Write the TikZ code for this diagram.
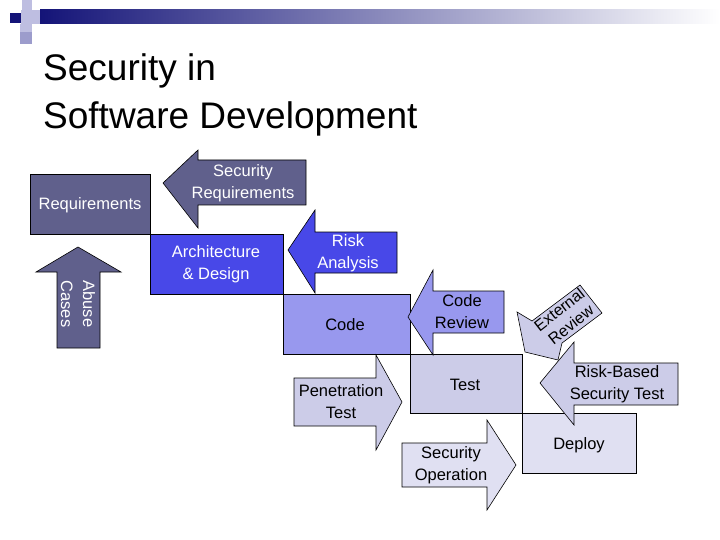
\documentclass[tikz,border=0pt]{standalone}
\usepackage{fontspec}
\setmainfont{Liberation Sans}
\definecolor{c1}{RGB}{96,96,140}
\definecolor{c2}{RGB}{72,72,232}
\definecolor{c3}{RGB}{152,152,238}
\definecolor{c4}{RGB}{204,204,232}
\definecolor{c5}{RGB}{224,224,242}
\definecolor{navy}{RGB}{20,20,120}
\definecolor{lav}{RGB}{190,190,225}
\begin{document}
\begin{tikzpicture}[x=1pt,y=-1pt,
  shp/.style={draw=black,line width=0.6pt},
  lbl/.style={font=\fontsize{16.5}{22}\selectfont,align=center,inner sep=0pt}]
\useasboundingbox (0,0) rectangle (720,540);
% header
\shade[left color=navy,right color=white] (40,10) rectangle (720,24);
\fill[lav] (22,0) rectangle (32,10);
\fill[navy] (10,13) rectangle (21,23);
\fill[lav] (21,10) rectangle (40,24);
\fill[lav] (20,24) rectangle (32,32);
\fill[lav!80!navy] (20,32) rectangle (32,44);
% title
\node[anchor=west,font=\fontsize{37}{48}\selectfont,align=left,inner sep=0pt] (title) at (43,95) {Security in\\Software Development};
% boxes
\draw[shp,fill=c1] (30,174) rectangle (150,234);
\node[lbl,text=white] (req) at (90,205) {Requirements};
\draw[shp,fill=c2] (150,234) rectangle (283,294);
\node[lbl,text=white] (arch) at (216,264) {Architecture\\\& Design};
\draw[shp,fill=c3] (283,294) rectangle (410,354);
\node[lbl] (code) at (345,325) {Code};
\draw[shp,fill=c4] (410,354) rectangle (522,413);
\node[lbl] (test) at (465,385) {Test};
\draw[shp,fill=c5] (522,413) rectangle (636,473);
\node[lbl] (deploy) at (579,445) {Deploy};
% left arrows
\draw[shp,fill=c1] (163,183) -- (198,150) -- (198,160) -- (306,160) -- (306,205) -- (198,205) -- (198,228) -- cycle;
\node[lbl,text=white] (sreq) at (243,183) {Security\\Requirements};
\draw[shp,fill=c2] (288,250) -- (315,210) -- (315,232) -- (397,232) -- (397,273) -- (315,273) -- (315,293) -- cycle;
\node[lbl,text=white] (risk) at (348,253) {Risk\\Analysis};
\draw[shp,fill=c3] (408,317) -- (433,270) -- (433,291) -- (504,291) -- (504,333) -- (433,333) -- (433,355) -- cycle;
\node[lbl] (crev) at (462,312) {Code\\Review};
% external review
\draw[shp,fill=c4] (525,352) -- (517,312) -- (532,321) -- (580,285) -- (602,313) -- (562,343) -- (558,360) -- cycle;
\node[font=\fontsize{16}{19}\selectfont,align=center,rotate=38,inner sep=0pt] (ext) at (565,317) {External\\Review};
\draw[shp,fill=c4] (540,383) -- (574,342) -- (574,363) -- (678,363) -- (678,405) -- (574,405) -- (574,425) -- cycle;
\node[lbl] (rbst) at (617,384) {Risk-Based\\Security Test};
% right arrows
\draw[shp,fill=c4] (294,378) -- (376,378) -- (376,355) -- (402,402) -- (376,450) -- (376,426) -- (294,426) -- cycle;
\node[lbl] (pen) at (341,402) {Penetration\\Test};
\draw[shp,fill=c5] (402,443) -- (487,443) -- (487,420) -- (516,465) -- (487,510) -- (487,487) -- (402,487) -- cycle;
\node[lbl] (sop) at (451,465) {Security\\Operation};
% up arrow
\draw[shp,fill=c1] (78,247) -- (121,272) -- (100,272) -- (100,348) -- (57,348) -- (57,272) -- (36,272) -- cycle;
\node[lbl,text=white,rotate=-90] (abuse) at (78,304) {Abuse\\Cases};
\end{tikzpicture}
\end{document}
